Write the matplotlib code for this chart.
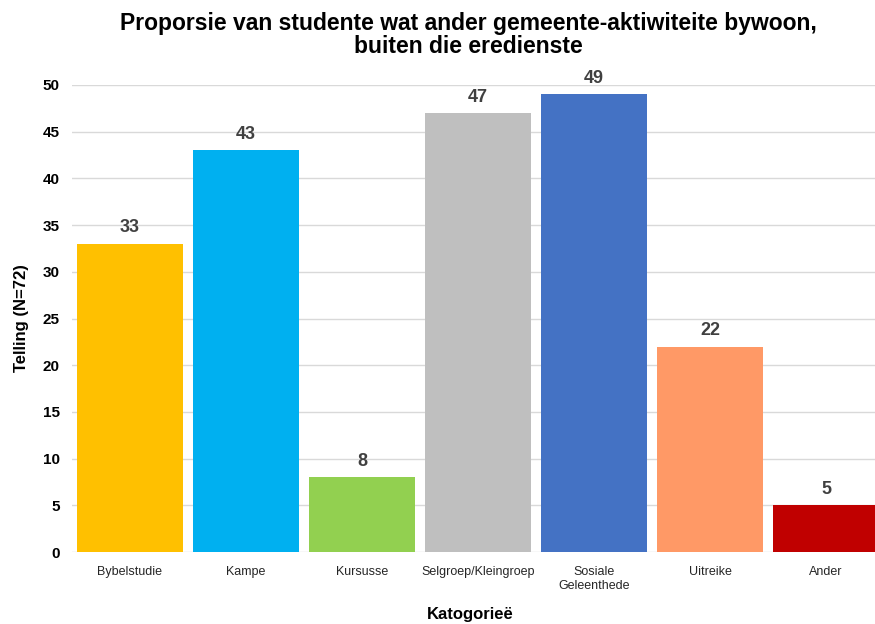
import matplotlib
matplotlib.use("Agg")
import numpy as np
from matplotlib import pyplot as plt
from matplotlib import font_manager

categories = ['Bybelstudie', 'Kampe', 'Kursusse', 'Selgroep/Kleingroep',
              'Sosiale\nGeleenthede', 'Uitreike', 'Ander']
counts = [33, 43, 8, 47, 49, 22, 5]
bar_colors = ['#FFC000', '#00B0F0', '#92D050', '#BFBFBF', '#4472C4', '#FF9966', '#C00000']
y_ticks = [0, 5, 10, 15, 20, 25, 30, 35, 40, 45, 50]

plt.rcParams['font.family'] = ['Liberation Sans', 'DejaVu Sans']

# narrow font for the category labels if available
installed = {f.name for f in font_manager.fontManager.ttflist}
narrow = 'Liberation Sans Narrow' if 'Liberation Sans Narrow' in installed else 'Liberation Sans'

fig = plt.figure(figsize=(8.75, 6.24), dpi=100)
ax = fig.add_axes([72 / 875, 72 / 624, 812 / 875, 467 / 624])

x = np.arange(len(categories))
bars = ax.bar(x, counts, width=0.92, color=bar_colors, zorder=2)

for xi, val in zip(x, counts):
    ax.text(xi, val + 0.8, f'{val}', ha='center', va='bottom',
            fontsize=13, fontweight='bold', color='#404040')

ax.set_xlim(-0.5, len(categories) - 0.5)
ax.set_ylim(0, 50)
ax.set_yticks(y_ticks)
ax.set_yticklabels([str(t) for t in y_ticks], fontsize=11, fontweight='bold')
ax.set_xticks(x)
ax.set_xticklabels(categories, fontsize=9, family=narrow, color='#262626')
ax.tick_params(axis='x', length=0, pad=10)
ax.tick_params(axis='y', length=0, pad=9)

ax.grid(axis='y', color='#D9D9D9', linewidth=1, zorder=0)
for s in ax.spines.values():
    s.set_visible(False)

ax.set_ylabel('Telling (N=72)', fontsize=12, fontweight='bold', labelpad=10)
fig.text(470 / 875, 1 - 615 / 624, 'Katogorieë', ha='center', va='center',
         fontsize=12, fontweight='bold', family=narrow)
fig.text(468 / 875, 1 - 35 / 624,
         'Proporsie van studente wat ander gemeente-aktiwiteite bywoon,\nbuiten die eredienste',
         ha='center', va='center', fontsize=16.5, fontweight='bold', linespacing=1.05)

fig.savefig('out.png', dpi=100)
